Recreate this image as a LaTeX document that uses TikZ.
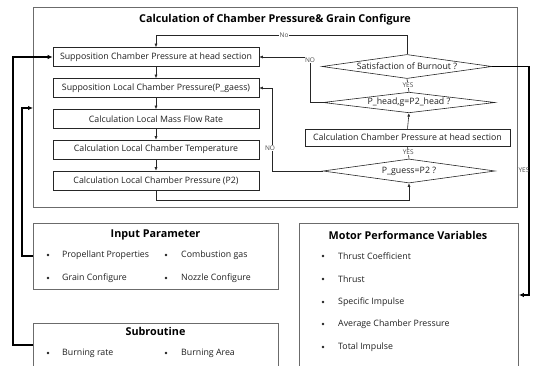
\documentclass[tikz,border=0pt]{standalone}
\usepackage{fontspec}
\setmainfont{Open Sans}
\usetikzlibrary{shapes.geometric,arrows.meta}
\definecolor{framegray}{rgb}{0.42,0.42,0.42}
\definecolor{txt}{rgb}{0.12,0.12,0.12}
\begin{document}
\begin{tikzpicture}[x=1pt,y=-1pt,
  bigbox/.style={draw=framegray, line width=0.9pt, anchor=north west, inner sep=0pt},
  stepbox/.style={draw=black!85, line width=0.6pt, inner sep=0pt, minimum width=206pt, minimum height=19pt, text=txt, font=\fontsize{8.8}{10}\selectfont},
  decision/.style={draw=black!85, line width=0.6pt, diamond, aspect=7, inner sep=0pt, minimum width=172pt, minimum height=24pt, text=txt, font=\fontsize{8.8}{10}\selectfont},
  flow/.style={draw=black!85, line width=0.6pt, -{Latex[length=3.5pt,width=3pt]}},
  plainflow/.style={draw=black!85, line width=0.6pt},
  thickflow/.style={draw=black, line width=1.3pt, -{Latex[length=5pt,width=4.5pt]}},
  lbl/.style={fill=white, inner sep=0.5pt, text=black!70, font=\fontsize{6.5}{7}\selectfont},
  ttl/.style={font=\bfseries\fontsize{10.8}{12}\selectfont, text=black},
  item/.style={anchor=west, inner sep=0pt, text=txt, font=\fontsize{8.8}{10}\selectfont},
  bul/.style={circle, fill=txt, inner sep=0pt, minimum size=2.6pt}]
\useasboundingbox (0,0) rectangle (541,366);
\begin{scope}
\clip (0,0) rectangle (541,366);
% big frames
\node[bigbox, minimum width=484pt, minimum height=200pt] (calc) at (33,7) {};
\node[ttl] (calcT) at (275,20) {Calculation of Chamber Pressure\& Grain Configure};
\node[bigbox, minimum width=245pt, minimum height=66pt] (inp) at (33,223) {};
\node[ttl] (inpT) at (155.5,235) {Input Parameter};
\node[bigbox, minimum width=245pt, minimum height=60pt] (sub) at (33,323) {};
\node[ttl] (subT) at (155.5,331) {Subroutine};
\node[bigbox, minimum width=219pt, minimum height=160pt] (mot) at (299,223) {};
\node[ttl] (motT) at (408,235) {Motor Performance Variables};

% left column steps
\node[stepbox] (b1) at (156,57) {Supposition Chamber Pressure at head section};
\node[stepbox] (b2) at (156,88) {Supposition Local Chamber Pressure(P\_gaess)};
\node[stepbox] (b3) at (156,119) {Calculation Local Mass Flow Rate};
\node[stepbox] (b4) at (156,149.5) {Calculation Local Chamber Temperature};
\node[stepbox] (b5) at (156,180.5) {Calculation Local Chamber Pressure (P2)};

% right column
\node[decision, minimum width=170pt] (d1) at (407,66.5) {Satisfaction of Burnout ?};
\node[decision, minimum height=20pt] (d2) at (409,102.5) {P\_head,g=P2\_head ?};
\node[stepbox, minimum width=205pt, minimum height=17pt] (b6) at (407.5,137.5) {Calculation Chamber Pressure at head section};
\node[decision] (d3) at (409,171) {P\_guess=P2 ?};

% flow arrows
\draw[flow] (b1) -- (b2);
\draw[flow] (b2) -- (b3);
\draw[flow] (b3) -- (b4);
\draw[flow] (b4) -- (b5);
\coordinate (bot) at (0,200);
\draw[flow] (b5.south) -- (b5.south |- bot) -| (d3.south);
\draw[plainflow] (d3.north) -- (b6.south) node[midway, lbl] {YES};
\draw[flow] (b6.north) -- (d2.south);
\draw[plainflow] (d2.north) -- (d1.south) node[midway, lbl] {YES};
\coordinate (top) at (0,35);
\draw[flow] (d1.north) -- (d1.north |- top) -| (b1.north) node[pos=0.245, lbl] {No};
\coordinate (n1) at (310,57);
\draw[flow] (d2.west) -| (n1) -- (b1.east);
\node[lbl] (noA) at (310,60) {NO};
\coordinate (n2) at (272,88);
\draw[flow] (d3.west) -| (n2) -- (b2.east);
\node[lbl] (noB) at (270,148) {NO};
\coordinate (yr) at (529,295);
\draw[thickflow] (d1.east) -| (yr) -- (mot.east |- yr);
\node[lbl, fill=none] (yesR) at (524,170) {YES};

% left long connectors
\coordinate (s1) at (13,345);
\draw[thickflow] (sub.west |- s1) -- (s1) |- (b1.west);
\coordinate (s2) at (22,256);
\coordinate (s3) at (0,108);
\draw[thickflow] (inp.west |- s2) -- (s2) |- (calc.west |- s3);

% input items
\node[bul] (ib1) at (48,255) {};
\node[item] (it1) at (62,255) {Propellant Properties};
\node[bul] (ib2) at (166,255) {};
\node[item] (it2) at (181,255) {Combustion gas};
\node[bul] (ib3) at (48,278) {};
\node[item] (it3) at (62,278) {Grain Configure};
\node[bul] (ib4) at (166,278) {};
\node[item] (it4) at (181,278) {Nozzle Configure};

% subroutine items
\node[bul] (sb1) at (48,353) {};
\node[item] (st1) at (62,353) {Burning rate};
\node[bul] (sb2) at (166,353) {};
\node[item] (st2) at (181,353) {Burning Area};

% motor items
\node[bul] (mb1) at (323,256) {};
\node[item] (mt1) at (338,256) {Thrust Coefficient};
\node[bul] (mb2) at (323,279) {};
\node[item] (mt2) at (338,279) {Thrust};
\node[bul] (mb3) at (323,302) {};
\node[item] (mt3) at (338,302) {Specific Impulse};
\node[bul] (mb4) at (323,324) {};
\node[item] (mt4) at (338,324) {Average Chamber Pressure};
\node[bul] (mb5) at (323,347) {};
\node[item] (mt5) at (338,347) {Total Impulse};
\end{scope}
\end{tikzpicture}
\end{document}
